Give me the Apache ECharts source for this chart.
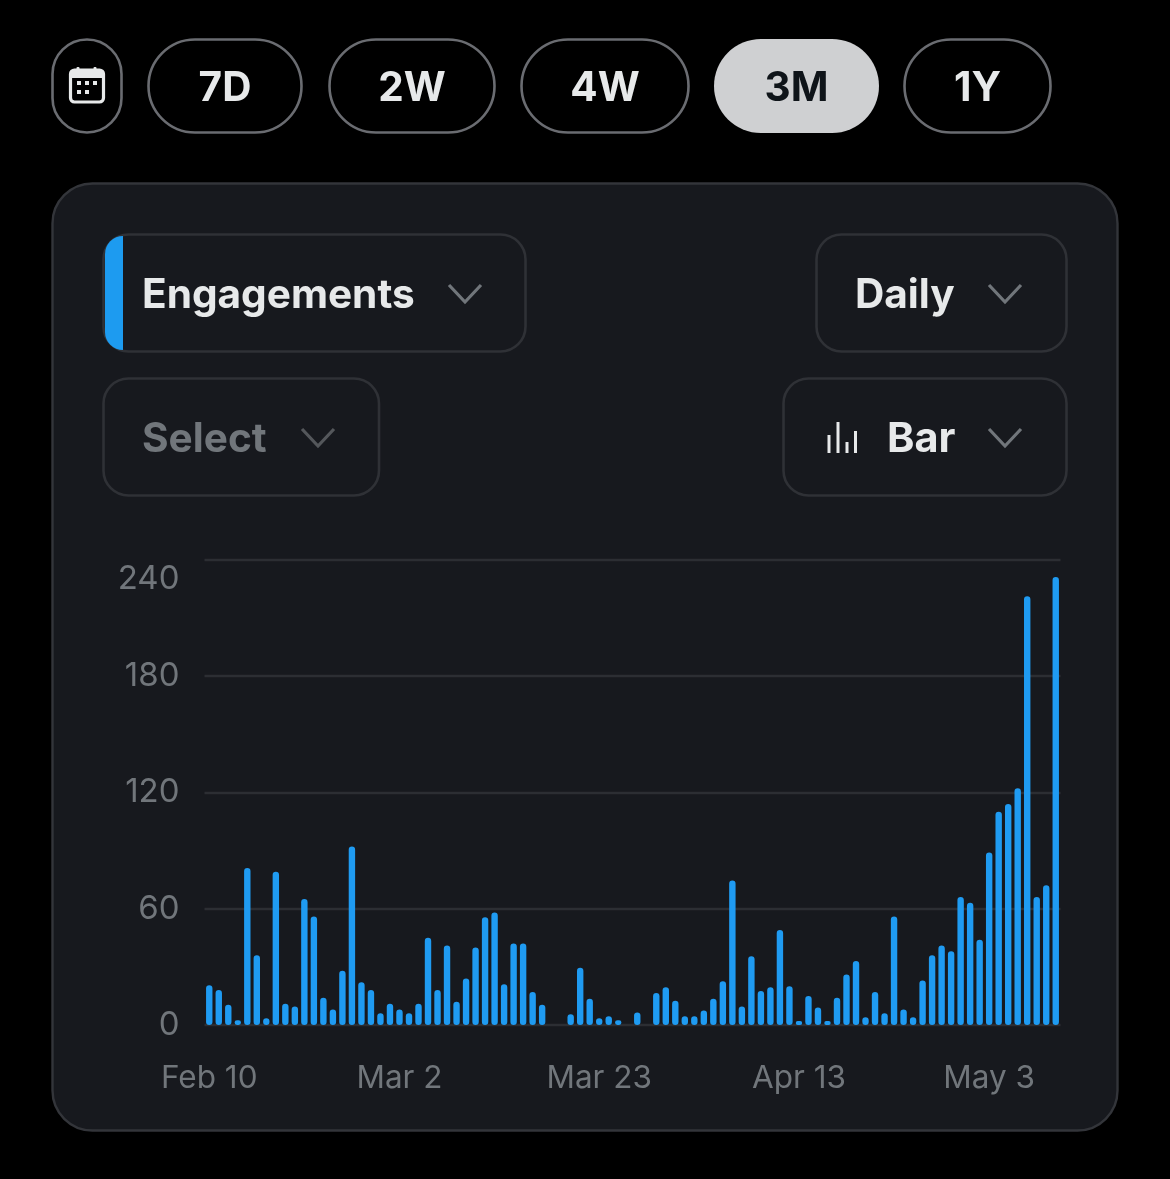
<!DOCTYPE html>
<html><head><meta charset="utf-8">
<script src="https://cdn.jsdelivr.net/npm/echarts@6/dist/echarts.min.js"></script>
<style>html,body{margin:0;padding:0;background:#000}#c{width:1170px;height:1179px}</style>
</head><body><div id="c"></div>
<script>
const categories = ["Feb 10","Feb 11","Feb 12","Feb 13","Feb 14","Feb 15","Feb 16","Feb 17","Feb 18","Feb 19","Feb 20","Feb 21","Feb 22","Feb 23","Feb 24","Feb 25","Feb 26","Feb 27","Feb 28","Mar 1","Mar 2","Mar 3","Mar 4","Mar 5","Mar 6","Mar 7","Mar 8","Mar 9","Mar 10","Mar 11","Mar 12","Mar 13","Mar 14","Mar 15","Mar 16","Mar 17","Mar 18","Mar 19","Mar 20","Mar 21","Mar 22","Mar 23","Mar 24","Mar 25","Mar 26","Mar 27","Mar 28","Mar 29","Mar 30","Mar 31","Apr 1","Apr 2","Apr 3","Apr 4","Apr 5","Apr 6","Apr 7","Apr 8","Apr 9","Apr 10","Apr 11","Apr 12","Apr 13","Apr 14","Apr 15","Apr 16","Apr 17","Apr 18","Apr 19","Apr 20","Apr 21","Apr 22","Apr 23","Apr 24","Apr 25","Apr 26","Apr 27","Apr 28","Apr 29","Apr 30","May 1","May 2","May 3","May 4","May 5","May 6","May 7","May 8","May 9","May 10"];
const engagements = [20.5,18,10.5,2.5,81,36,3.5,79,11,9.5,65,56,14,8,28,92,22,18,6,11,8,6,11,45,18,41,12,24,40,55.5,58,21,42,42,17,10.5,null,null,5.5,29.5,13.5,3.5,4.5,2.5,null,6.5,null,16.5,19.5,12.5,4.5,4.5,7.5,13.5,22.5,74.5,9.5,35.5,17.5,19.5,49,20,2,15,9,2,14,26,33,4,17,6,56,8,4,23,36,41,38,66,63,44,89,110,114,122,221,66,72,231];
const shownDates = ["Feb 10","Mar 2","Mar 23","Apr 13","May 3"];
const yTicks = {min:0,max:240,step:60};
const rangeChips = [["7D",148,302],["2W",329,495],["4W",521,689],["3M",714,879],["1Y",904,1051]];

const FONT='Inter, "Noto Sans", sans-serif';
const g=[];
const rect=(x,y,w,h,r,fill,stroke,lw,z)=>g.push({type:'rect',z:z||1,shape:{x,y,width:w,height:h,r},style:{fill:fill||'transparent',stroke:stroke||null,lineWidth:lw||0},silent:true});
const text=(s,x,y,size,fill,align,weight)=>g.push({type:'text',z:5,x,y,style:{text:s,fill,font:`${weight||700} ${size}px ${FONT}`,align:align||'left',verticalAlign:'middle'},silent:true});
const chev=(x1,x2,y1,y2,c)=>g.push({type:'polyline',z:5,shape:{points:[[x1,y1],[(x1+x2)/2,y2],[x2,y1]]},style:{fill:null,stroke:c,lineWidth:3.2},silent:true});

rect(52.5,39.5,69,93,34.5,'#000','#6a6c71',2.6);
rangeChips.forEach(([t,a,b])=>{
  const on=t==='3M';
  if(on) rect(a,39,b-a,94,47,'#cfd0d2');
  else rect(a+.5,39.5,b-a-1,93,46.5,'#000','#6a6c71',2.6);
  text(t,(a+b)/2,89,40.5,on?'#0f1419':'#e7e9ea','center',700);
});
// calendar icon
rect(70.5,70,33,32,4,'transparent','#e7e9ea',3.2,5);
rect(70.5,70,33,8,[4,4,0,0],'#e7e9ea',null,0,5);
[78,95].forEach(x=>rect(x-1.5,67,3,5,1,'#e7e9ea',null,0,5));
[[79,83],[87,83],[95,83],[79,92],[87,92]].forEach(([x,y])=>rect(x-2,y-2,4,4,0,'#e7e9ea',null,0,5));

rect(52.5,183.5,1065,947,40,'#17191e','#33353a',2.4);
rect(103.5,234.5,422,117,25,'transparent','#2f3136',2.6);
rect(105,236,18,114,[24,0,0,24],'#1d9bf0',null,0,3);
text('Engagements',142,296,40.6,'#e7e9ea','left',700);
chev(449,481,285,302,'#71767b');
rect(816.5,234.5,250,117,25,'transparent','#2f3136',2.6);
text('Daily',855,296,40.6,'#e7e9ea','left',700);
chev(989,1021,285,302,'#71767b');
rect(103.5,378.5,275.5,117,25,'transparent','#2f3136',2.6);
text('Select',142,440,40.6,'#71767b','left',700);
chev(302,334,429,446,'#54575b');
rect(783.5,378.5,283,117,25,'transparent','#2f3136',2.6);
text('Bar',887,440,41.5,'#e7e9ea','left',700);
chev(989,1021,429,446,'#71767b');
[[829,435],[838,422],[847,442],[855.5,431]].forEach(([x,y])=>rect(x-1.5,y,3,453-y,0,'#e7e9ea',null,0,5));

const chart=echarts.init(document.getElementById('c'),null,{renderer:'canvas'});
chart.setOption({
  backgroundColor:'#000',animation:false,
  graphic:g,
  grid:{left:204.5,width:856,top:559.5,height:465.5},
  xAxis:{type:'category',data:categories,boundaryGap:true,z:20,
    axisLine:{show:false},axisTick:{show:false},splitLine:{show:false},
    axisLabel:{interval:(i,v)=>shownDates.includes(v),color:'#71767b',fontFamily:FONT,fontSize:31.5,margin:38,hideOverlap:false}},
  yAxis:{type:'value',min:yTicks.min,max:yTicks.max,interval:yTicks.step,z:20,
    axisLine:{show:false},axisTick:{show:false},
    splitLine:{show:true,lineStyle:{color:'#2c2e33',width:2.4}},
    axisLabel:{color:'#71767b',fontFamily:FONT,fontSize:33,margin:25,verticalAlignMaxLabel:'top',padding:[3,0,0,0]}},
  series:[{type:'bar',name:'Engagements',data:engagements,barWidth:6.4,z:30,
    itemStyle:{color:'#1f9bf2',borderRadius:3.2}}]
});
</script></body></html>
